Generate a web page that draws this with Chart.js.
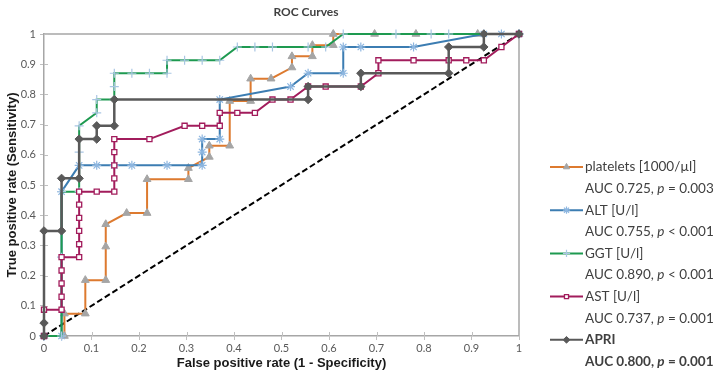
<!DOCTYPE html>
<html>
<head>
<meta charset="utf-8">
<script src="https://cdn.jsdelivr.net/npm/chart.js@4.4.1/dist/chart.umd.min.js"></script>
<style>
  html, body { margin: 0; padding: 0; background: #fff; }
  #wrap { width: 720px; height: 372px; }
</style>
</head>
<body>
<div id="wrap"><canvas id="rocChart" width="720" height="372"></canvas></div>
<script>
"use strict";

// ROC points: false positive rate (x) / true positive rate (y)
const plateletsX = [0, 0.043, 0.043, 0.087, 0.087, 0.130, 0.130, 0.130, 0.174, 0.217, 0.217, 0.304, 0.304, 0.348, 0.348, 0.391, 0.391, 0.435, 0.435, 0.478, 0.522, 0.522, 0.565, 0.565, 0.609, 0.609, 0.696, 0.783, 0.913, 1];
const plateletsY = [0, 0, 0.074, 0.074, 0.185, 0.185, 0.296, 0.370, 0.407, 0.407, 0.519, 0.519, 0.556, 0.593, 0.630, 0.630, 0.778, 0.778, 0.852, 0.852, 0.889, 0.926, 0.926, 0.963, 0.963, 1, 1, 1, 1, 1];

const altX = [0, 0.037, 0.037, 0.074, 0.111, 0.148, 0.185, 0.259, 0.333, 0.333, 0.333, 0.370, 0.370, 0.519, 0.556, 0.630, 0.630, 0.667, 0.778, 0.926, 0.963, 1];
const altY = [0, 0, 0.478, 0.565, 0.565, 0.565, 0.565, 0.565, 0.565, 0.609, 0.652, 0.652, 0.783, 0.826, 0.870, 0.870, 0.957, 0.957, 0.957, 1, 1, 1];

const ggtX = [0, 0.037, 0.037, 0.037, 0.074, 0.074, 0.074, 0.111, 0.111, 0.148, 0.148, 0.148, 0.185, 0.222, 0.259, 0.259, 0.296, 0.333, 0.370, 0.407, 0.444, 0.481, 0.556, 0.593, 0.630, 0.741, 0.815, 0.852, 1];
const ggtY = [0, 0, 0.261, 0.478, 0.478, 0.609, 0.696, 0.739, 0.783, 0.783, 0.826, 0.870, 0.870, 0.870, 0.870, 0.913, 0.913, 0.913, 0.913, 0.957, 0.957, 0.957, 0.957, 0.957, 1, 1, 1, 1, 1];

const astX = [0, 0, 0.037, 0.037, 0.037, 0.037, 0.037, 0.074, 0.074, 0.074, 0.074, 0.074, 0.074, 0.111, 0.148, 0.148, 0.148, 0.148, 0.148, 0.222, 0.296, 0.333, 0.370, 0.370, 0.407, 0.444, 0.481, 0.519, 0.556, 0.593, 0.667, 0.704, 0.704, 0.778, 0.852, 0.889, 0.926, 0.963, 1];
const astY = [0, 0.087, 0.087, 0.130, 0.174, 0.217, 0.261, 0.261, 0.304, 0.348, 0.391, 0.435, 0.478, 0.478, 0.478, 0.522, 0.565, 0.609, 0.652, 0.652, 0.696, 0.696, 0.696, 0.739, 0.739, 0.739, 0.783, 0.783, 0.826, 0.826, 0.826, 0.870, 0.913, 0.913, 0.913, 0.913, 0.913, 0.957, 1];

const apriX = [0, 0, 0, 0.037, 0.037, 0.074, 0.074, 0.111, 0.111, 0.148, 0.148, 0.556, 0.556, 0.667, 0.667, 0.852, 0.852, 0.926, 0.926, 1];
const apriY = [0, 0.043, 0.348, 0.348, 0.522, 0.522, 0.652, 0.652, 0.696, 0.696, 0.783, 0.783, 0.826, 0.826, 0.870, 0.870, 0.957, 0.957, 1, 1];

const chanceX = [0, 1];
const chanceY = [0, 1];

const tickValues = [0, 0.1, 0.2, 0.3, 0.4, 0.5, 0.6, 0.7, 0.8, 0.9, 1];
const tickLabels = ["0", "0.1", "0.2", "0.3", "0.4", "0.5", "0.6", "0.7", "0.8", "0.9", "1"];

const seriesNames = ["platelets [1000/\u00b5l]", "ALT [U/l]", "GGT [U/l]", "AST [U/l]", "APRI"];
const aucValues  = ["0.725", "0.755", "0.890", "0.737", "0.800"];
const pSigns     = ["=", "<", "<", "=", "="];
const pValues    = ["0.003", "0.001", "0.001", "0.001", "0.001"];

function toPoints(xs, ys) {
  return xs.map((x, i) => ({ x: x, y: ys[i] }));
}

const datasets = [
  { label: seriesNames[0], data: toPoints(plateletsX, plateletsY), borderColor: "#dd7a2f", borderWidth: 2,
    pointStyle: "triangle", pointRadius: 4.5, pointBackgroundColor: "#a5a5a5", pointBorderColor: "#a5a5a5", pointBorderWidth: 1, order: 5 },
  { label: seriesNames[1], data: toPoints(altX, altY), borderColor: "#3c7db2", borderWidth: 2,
    pointStyle: "star", pointRadius: 4.5, pointBackgroundColor: "#8db6e0", pointBorderColor: "#8db6e0", pointBorderWidth: 1.2, order: 4 },
  { label: seriesNames[2], data: toPoints(ggtX, ggtY), borderColor: "#1e9a50", borderWidth: 2,
    pointStyle: "cross", pointRadius: 4.5, pointBackgroundColor: "#a9c6e3", pointBorderColor: "#a9c6e3", pointBorderWidth: 1.2, order: 3 },
  { label: seriesNames[3], data: toPoints(astX, astY), borderColor: "#a21c5c", borderWidth: 2,
    pointStyle: "rect", pointRadius: 3.6, pointBackgroundColor: "#ffffff", pointBorderColor: "#a21c5c", pointBorderWidth: 1.3, order: 2 },
  { label: seriesNames[4], data: toPoints(apriX, apriY), borderColor: "#595959", borderWidth: 2.5,
    pointStyle: "rectRot", pointRadius: 4.2, pointBackgroundColor: "#595959", pointBorderColor: "#595959", pointBorderWidth: 1, order: 1 },
  { label: "chance", data: toPoints(chanceX, chanceY), borderColor: "#000000", borderWidth: 2, borderDash: [6, 3],
    pointRadius: 0, order: 6 }
];
datasets.forEach(d => { d.showLine = true; d.fill = false; d.tension = 0; d.clip = false; });

// borders, inner tick marks, title and the two-line legend
const rocDecor = {
  id: "rocDecor",
  beforeDatasetsDraw(chart) {
    const { ctx, chartArea: a, scales } = chart;
    ctx.save();
    ctx.strokeStyle = "#a6a6a6";
    ctx.lineWidth = 1.5;
    ctx.beginPath();
    ctx.moveTo(a.left, a.top);
    ctx.lineTo(a.right, a.top);
    ctx.lineTo(a.right, a.bottom);
    ctx.stroke();

    ctx.strokeStyle = "#bfbfbf";
    ctx.lineWidth = 1;
    ctx.beginPath();
    tickValues.forEach(v => {
      const px = Math.round(scales.x.getPixelForValue(v)) + 0.5;
      ctx.moveTo(px, a.bottom);
      ctx.lineTo(px, a.bottom - 4);
      const py = Math.round(scales.y.getPixelForValue(v)) + 0.5;
      ctx.moveTo(a.left, py);
      ctx.lineTo(a.left + 4, py);
    });
    ctx.stroke();
    ctx.restore();
  },
  afterDraw(chart) {
    const ctx = chart.ctx;
    ctx.save();
    ctx.fillStyle = "#404040";
    ctx.font = "bold 12px Lato";
    ctx.textAlign = "center";
    ctx.textBaseline = "middle";
    ctx.fillText("ROC Curves", 306, 12);

    const lineX0 = 550, lineX1 = 583, textX = 585, topY = 167, gap = 21.6;
    ctx.textAlign = "left";
    seriesNames.forEach((name, i) => {
      const ds = chart.data.datasets[i];
      const y = topY + i * 2 * gap;
      const weight = i === seriesNames.length - 1 ? "bold " : "";

      ctx.strokeStyle = ds.borderColor;
      ctx.lineWidth = 2;
      ctx.beginPath();
      ctx.moveTo(lineX0, y);
      ctx.lineTo(lineX1, y);
      ctx.stroke();
      ctx.fillStyle = ds.pointBackgroundColor;
      ctx.strokeStyle = ds.pointBorderColor;
      ctx.lineWidth = ds.pointBorderWidth;
      Chart.helpers.drawPoint(ctx, { pointStyle: ds.pointStyle, radius: ds.pointRadius * 0.8, rotation: 0, borderWidth: ds.pointBorderWidth },
        (lineX0 + lineX1) / 2, y);

      ctx.fillStyle = "#404040";
      ctx.font = weight + "13.5px Lato";
      ctx.fillText(name, textX, y);

      const y2 = y + gap;
      let x = textX;
      const parts = [["AUC " + aucValues[i] + ", ", ""], ["p", "italic "], [" " + pSigns[i] + " " + pValues[i], ""]];
      parts.forEach(([txt, style]) => {
        ctx.font = style + weight + "13.5px Lato";
        ctx.fillText(txt, x, y2);
        x += ctx.measureText(txt).width;
      });
    });
    ctx.restore();
  }
};

const axisTitleFont = { family: "Liberation Sans", size: 13, weight: "bold" };
const tickFont = { family: "Lato", size: 11 };

new Chart(document.getElementById("rocChart"), {
  type: "scatter",
  data: { datasets: datasets },
  options: {
    responsive: false,
    animation: false,
    layout: { padding: { top: 34, right: 201, left: 0, bottom: 0 } },
    plugins: { legend: { display: false }, tooltip: { enabled: false }, title: { display: false } },
    scales: {
      x: {
        type: "linear", min: 0, max: 1,
        afterBuildTicks: s => { s.ticks = tickValues.map(v => ({ value: v })); },
        afterFit: s => { s.height = 36; },
        ticks: { callback: (v, i) => tickLabels[i], color: "#595959", font: tickFont, padding: 2, maxRotation: 0, autoSkip: false },
        grid: { drawOnChartArea: false, tickLength: 4, color: "#bfbfbf" },
        border: { color: "#a6a6a6", width: 1.5 },
        title: { display: true, text: "False positive rate (1 - Specificity)", font: axisTitleFont, color: "#1a1a1a", padding: { top: 0, bottom: 1 } }
      },
      y: {
        type: "linear", min: 0, max: 1,
        afterBuildTicks: s => { s.ticks = tickValues.map(v => ({ value: v })); },
        afterFit: s => { s.width = 44; },
        ticks: { callback: (v, i) => tickLabels[i], color: "#595959", font: tickFont, padding: 4, autoSkip: false },
        grid: { drawOnChartArea: false, tickLength: 4, color: "#bfbfbf" },
        border: { color: "#a6a6a6", width: 1.5 },
        title: { display: true, text: "True positive rate (Sensitivity)", font: axisTitleFont, color: "#1a1a1a", padding: { top: 5, bottom: 0 } }
      }
    }
  },
  plugins: [rocDecor]
});
</script>
</body>
</html>
